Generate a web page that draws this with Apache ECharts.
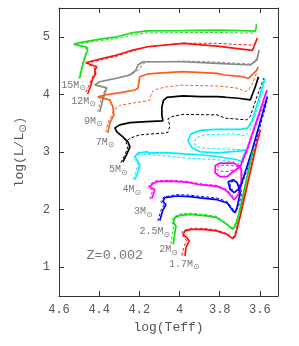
<!DOCTYPE html>
<html><head><meta charset="utf-8">
<script src="https://cdn.jsdelivr.net/npm/echarts@6/dist/echarts.min.js"></script>
<style>html,body{margin:0;padding:0;background:#fff}#c{width:299px;height:346px}</style>
</head><body><div id="c"></div>
<script>
// Tick values
var xTicks = [4.6, 4.4, 4.2, 4.0, 3.8, 3.6];
var yTicks = [1, 2, 3, 4, 5];

// Tracks: [log Teff, log L/Lsun]; solid (model A) and dashed (model B)
var m15 = [[4.497,4.285],[4.482,4.510],[4.467,4.683],[4.457,4.770],[4.462,4.822],[4.527,4.874],[4.482,4.908],[4.397,4.960],[4.312,5.000],[4.232,5.073],[4.158,5.104],[3.983,5.107],[3.813,5.116],[3.648,5.104],[3.623,5.099],[3.618,5.168],[3.618,5.220]];
var m15d = [[4.502,4.270],[4.487,4.490],[4.472,4.670],[4.462,4.760],[4.467,4.805],[4.522,4.860],[4.477,4.890],[4.392,4.935],[4.307,4.975],[4.227,5.040],[4.158,5.068],[3.983,5.073],[3.813,5.075],[3.648,5.064],[3.628,5.070]];
var m12 = [[4.457,4.008],[4.442,4.150],[4.432,4.280],[4.417,4.360],[4.422,4.420],[4.412,4.480],[4.467,4.550],[4.397,4.614],[4.312,4.683],[4.232,4.770],[4.158,4.827],[3.983,4.886],[3.813,4.839],[3.648,4.770],[3.638,4.758],[3.613,4.977]];
var m12d = [[4.467,4.040],[4.447,4.190],[4.432,4.310],[4.417,4.400],[4.427,4.470],[4.462,4.540],[4.392,4.600],[4.307,4.670],[4.227,4.760],[4.158,4.830],[3.983,4.890],[3.813,4.886],[3.648,4.856],[3.633,4.870]];
var m9 = [[4.397,3.696],[4.382,3.904],[4.372,4.025],[4.362,4.112],[4.422,4.164],[4.397,4.220],[4.312,4.280],[4.247,4.337],[4.217,4.423],[4.207,4.510],[4.183,4.567],[4.158,4.567],[3.983,4.567],[3.813,4.540],[3.648,4.510],[3.640,4.510],[3.615,4.597],[3.604,4.770]];
var m9d = [[4.407,3.690],[4.392,3.900],[4.377,4.030],[4.367,4.120],[4.417,4.170],[4.392,4.230],[4.307,4.290],[4.237,4.350],[4.197,4.440],[4.188,4.520],[4.163,4.560],[3.983,4.580],[3.813,4.560],[3.658,4.530],[3.640,4.530],[3.613,4.640]];
var m7 = [[4.357,3.332],[4.347,3.505],[4.327,3.644],[4.332,3.783],[4.347,3.904],[4.407,3.956],[4.372,3.990],[4.287,4.034],[4.222,4.077],[4.207,4.106],[4.198,4.307],[4.163,4.350],[4.123,4.366],[3.983,4.394],[3.813,4.366],[3.773,4.337],[3.690,4.307],[3.657,4.280],[3.632,4.366],[3.615,4.423],[3.609,4.481]];
var m7d = [[4.367,3.340],[4.357,3.500],[4.337,3.650],[4.327,3.730],[4.297,3.810],[4.232,3.850],[4.158,3.887],[4.148,3.900],[4.140,4.030],[4.123,4.080],[4.068,4.130],[3.983,4.160],[3.813,4.146],[3.773,4.134],[3.708,4.106],[3.673,4.048],[3.657,4.077],[3.640,4.164],[3.615,4.389]];
var m5 = [[4.282,2.830],[4.264,2.952],[4.247,3.090],[4.257,3.177],[4.282,3.263],[4.312,3.350],[4.322,3.419],[4.297,3.471],[4.247,3.510],[4.163,3.528],[4.083,3.540],[4.088,3.644],[4.088,3.783],[4.080,3.895],[4.063,3.950],[3.983,3.973],[3.898,3.961],[3.813,3.961],[3.773,3.951],[3.708,3.933],[3.648,3.904],[3.640,3.933],[3.623,4.134],[3.607,4.307]];
var m5d = [[4.292,2.813],[4.272,2.952],[4.257,3.090],[4.267,3.177],[4.247,3.240],[4.198,3.298],[4.083,3.327],[4.058,3.340],[4.048,3.454],[4.058,3.575],[4.038,3.615],[3.983,3.653],[3.813,3.644],[3.773,3.587],[3.708,3.570],[3.665,3.558],[3.648,3.615],[3.615,3.961],[3.590,4.193],[3.582,4.280]];
var m4 = [[4.222,2.519],[4.207,2.657],[4.198,2.779],[4.207,2.830],[4.222,2.917],[4.207,2.980],[4.163,3.004],[4.148,2.985],[4.063,2.990],[3.983,2.969],[3.898,2.952],[3.813,2.922],[3.713,2.865],[3.693,2.830],[3.668,3.038],[3.698,3.020],[3.808,2.986],[3.898,3.004],[3.938,3.073],[3.958,3.194],[3.943,3.315],[3.898,3.375],[3.813,3.393],[3.698,3.393],[3.690,3.384],[3.663,3.414],[3.640,3.528],[3.607,3.904],[3.583,4.193],[3.574,4.280]];
var m4d = [[4.232,2.520],[4.217,2.660],[4.207,2.780],[4.217,2.830],[4.232,2.900],[4.212,2.950],[4.163,2.960],[4.063,2.930],[3.983,2.900],[3.813,2.865],[3.733,2.830],[3.693,2.779],[3.668,3.004],[3.683,3.038],[3.898,3.073],[3.928,3.142],[3.918,3.246],[3.873,3.298],[3.723,3.315],[3.673,3.280],[3.648,3.384],[3.598,3.904],[3.573,4.221]];
var m3 = [[4.138,2.190],[4.123,2.346],[4.148,2.398],[4.133,2.449],[4.113,2.484],[4.048,2.493],[3.963,2.476],[3.898,2.432],[3.813,2.403],[3.773,2.346],[3.753,2.276],[3.728,2.172],[3.708,2.259],[3.693,2.484],[3.693,2.692],[3.698,2.749],[3.733,2.808],[3.798,2.808],[3.823,2.761],[3.823,2.640],[3.798,2.571],[3.763,2.571],[3.733,2.657],[3.698,2.749],[3.665,3.038],[3.615,3.558],[3.565,4.077]];
var m3d = [[4.148,2.180],[4.133,2.340],[4.158,2.390],[4.143,2.450],[4.118,2.500],[4.048,2.510],[3.963,2.490],[3.898,2.450],[3.813,2.420],[3.773,2.360],[3.748,2.290],[3.722,2.190],[3.703,2.270],[3.688,2.490],[3.690,2.690],[3.705,2.740],[3.750,2.770],[3.800,2.770],[3.818,2.720],[3.808,2.670],[3.760,2.660],[3.725,2.690],[3.693,2.760],[3.660,3.050],[3.610,3.560],[3.572,3.900]];
var m25 = [[4.098,1.809],[4.084,1.982],[4.068,2.086],[4.083,2.138],[4.090,2.172],[4.073,2.207],[4.013,2.236],[3.948,2.224],[3.898,2.202],[3.813,2.172],[3.763,2.115],[3.733,1.970],[3.723,1.947],[3.713,2.051],[3.698,2.294],[3.713,2.467],[3.733,2.519],[3.758,2.484],[3.748,2.346],[3.728,2.294],[3.698,2.380],[3.638,3.038],[3.563,3.962]];
var m25d = [[4.108,1.800],[4.094,1.980],[4.078,2.080],[4.093,2.140],[4.098,2.170],[4.078,2.220],[4.013,2.260],[3.948,2.250],[3.898,2.230],[3.813,2.200],[3.763,2.140],[3.728,1.980],[3.713,2.000],[3.703,2.100],[3.690,2.300],[3.705,2.450],[3.728,2.500],[3.750,2.470],[3.745,2.360],[3.722,2.320],[3.693,2.400],[3.633,3.000],[3.565,3.880]];
var m2 = [[4.031,1.398],[4.023,1.601],[4.018,1.717],[4.031,1.774],[4.023,1.861],[3.998,1.900],[3.948,1.918],[3.865,1.890],[3.815,1.861],[3.765,1.744],[3.735,1.658],[3.723,1.717],[3.708,1.878],[3.634,3.038]];
var m2d = [[4.043,1.400],[4.035,1.600],[4.028,1.720],[4.040,1.780],[4.030,1.870],[3.998,1.925],[3.948,1.940],[3.865,1.910],[3.815,1.880],[3.765,1.760],[3.738,1.680],[3.726,1.730],[3.700,1.960],[3.638,3.000]];
var m17 = [[3.973,1.197],[3.968,1.341],[3.952,1.457],[3.965,1.514],[3.982,1.571],[3.973,1.630],[3.940,1.658],[3.882,1.658],[3.815,1.630],[3.765,1.571],[3.735,1.497],[3.723,1.544],[3.698,1.883],[3.623,3.038],[3.598,3.384]];
var m17d = [[3.988,1.200],[3.980,1.340],[3.965,1.460],[3.978,1.520],[3.992,1.580],[3.980,1.640],[3.940,1.675],[3.882,1.675],[3.815,1.645],[3.765,1.585],[3.738,1.510],[3.726,1.555],[3.700,1.890],[3.626,3.030]];

// Mass labels
var labelMass = ['15','12','9','7','5','4','3','2.5','2','1.7'];
var labelX = [4.527,4.477,4.429,4.370,4.305,4.237,4.180,4.123,4.055,3.976];
var labelY = [4.164,3.887,3.540,3.168,2.692,2.346,1.965,1.618,1.307,1.055];
var metalText = 'Z=0.002';
var metalPos = [4.322, 1.203];

var tracks = [
  [m15, m15d, '#1fe01f'],
  [m12, m12d, '#ff1010'],
  [m9, m9d, '#8a8a8a'],
  [m7, m7d, '#ff5a1a'],
  [m5, m5d, '#000000'],
  [m4, m4d, '#00eeff'],
  [m3, m3d, '#ff00ff'],
  [m25, m25d, '#0000ff'],
  [m2, m2d, '#11dd11'],
  [m17, m17d, '#ff1010']
];

var FONT = 'Liberation Mono, DejaVu Sans Mono, monospace';
var TXT = '#555';
var series = [];
tracks.forEach(function (t) {
  series.push({type:'line', data:t[1], symbol:'none', silent:true, z:2,
    lineStyle:{color:t[2], width:1, type:[3,2]}});
});
tracks.forEach(function (t) {
  series.push({type:'line', data:t[0], symbol:'none', silent:true, z:3,
    lineStyle:{color:t[2], width:1.7}});
});
var ldata = labelMass.map(function (m, i) { return {value:[labelX[i], labelY[i]], name:m}; });
series.push({type:'scatter', data:ldata, symbolSize:0, silent:true, z:5,
  label:{show:true, position:'inside', color:TXT, fontFamily:FONT, fontSize:10,
    formatter:function (p) { return p.name + 'M{s|\u2299}'; },
    rich:{s:{fontSize:8, fontFamily:'DejaVu Sans', color:TXT, padding:[6,0,0,0]}}}});
series.push({type:'scatter', data:[{value:metalPos, name:metalText}], symbolSize:0, silent:true, z:5,
  label:{show:true, position:'inside', color:TXT, fontFamily:FONT, fontSize:13.5,
    formatter:function (p) { return p.name; }}});

var axLine = {show:true, lineStyle:{color:'#333', width:1}};
var option = {
  animation:false,
  grid:{left:59, right:21, top:8, bottom:50},
  xAxis:[
    {type:'value', inverse:true, min:3.51, max:4.6, position:'bottom',
     name:'log(Teff)', nameLocation:'middle', nameGap:24,
     nameTextStyle:{color:TXT, fontFamily:FONT, fontSize:13},
     axisLine:axLine, splitLine:{show:false},
     axisTick:{inside:true, length:5, customValues:xTicks, lineStyle:{color:'#333'}},
     axisLabel:{customValues:xTicks, margin:8, color:TXT, fontFamily:FONT, fontSize:12,
       formatter:function (v) { return String(Math.round(v*10)/10); }}},
    {type:'value', inverse:true, min:3.51, max:4.6, position:'top',
     axisLine:axLine, splitLine:{show:false},
     axisTick:{inside:true, length:5, customValues:xTicks, lineStyle:{color:'#333'}},
     axisLabel:{show:false}}
  ],
  yAxis:[
    {type:'value', min:0.5, max:5.5, position:'left',
     name:'log(L/L{s|\u2299})', nameLocation:'middle', nameGap:31, nameRotate:90,
     nameTextStyle:{color:TXT, fontFamily:FONT, fontSize:13,
       rich:{s:{fontSize:10, fontFamily:'DejaVu Sans', color:TXT, padding:[7,0,0,0]}}},
     axisLine:axLine, splitLine:{show:false},
     axisTick:{inside:true, length:5, customValues:yTicks, lineStyle:{color:'#333'}},
     axisLabel:{customValues:yTicks, margin:9, color:TXT, fontFamily:FONT, fontSize:12}},
    {type:'value', min:0.5, max:5.5, position:'right',
     axisLine:axLine, splitLine:{show:false},
     axisTick:{inside:true, length:5, customValues:yTicks, lineStyle:{color:'#333'}},
     axisLabel:{show:false}}
  ],
  series:series
};
var chart = echarts.init(document.getElementById('c'), null, {renderer:'canvas'});
chart.setOption(option);
</script></body></html>
